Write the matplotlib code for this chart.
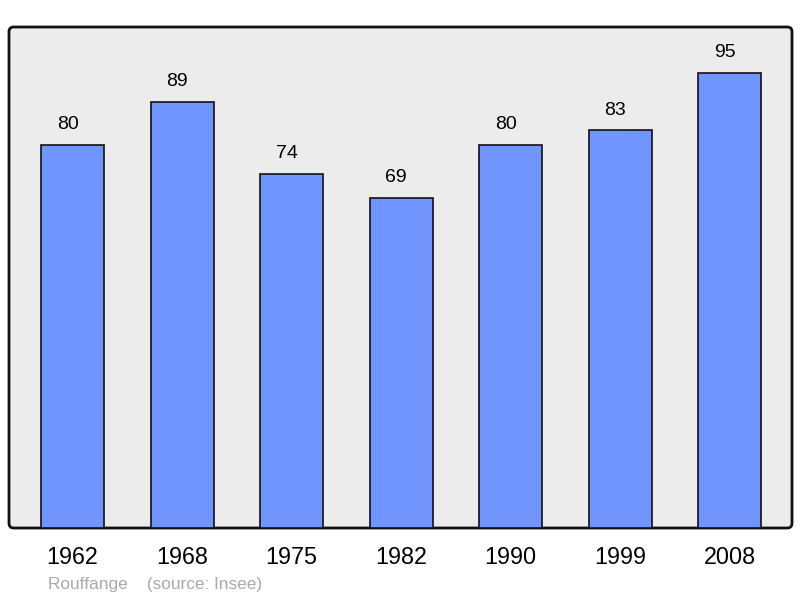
import matplotlib.pyplot as plt
from matplotlib.patches import FancyBboxPatch

years = ['1962', '1968', '1975', '1982', '1990', '1999', '2008']
population = [80, 89, 74, 69, 80, 83, 95]

plt.rcParams['font.family'] = ['Liberation Sans', 'DejaVu Sans']

fig = plt.figure(figsize=(8, 5.98), dpi=100)
ax = fig.add_axes([9 / 800, 70 / 598, 783 / 800, 501 / 598])
ax.set_facecolor('none')
ax.set_zorder(1)

# rounded frame behind the axes
frame = FancyBboxPatch((9 / 800, 70 / 598), 783 / 800, 501 / 598,
                       boxstyle='round,pad=0,rounding_size=0.006',
                       mutation_aspect=800 / 598,
                       transform=fig.transFigure, facecolor='#ececec',
                       edgecolor='#111111', linewidth=2, zorder=-1)
fig.patches.append(frame)

x = range(len(years))
ax.bar(x, population, width=0.575, color='#7095ff', edgecolor='#111111',
       linewidth=1.2, zorder=2)
for i, v in zip(x, population):
    ax.annotate(str(v), (i, v), xytext=(-3.6, 14.5), textcoords='offset points',
                ha='center', va='center', fontsize=14)

ax.set_xlim(-0.58, 6.57)
ax.set_ylim(0, 104.6)
ax.set_yticks([])
ax.set_xticks(list(x))
ax.set_xticklabels(years, fontsize=16.8)
ax.tick_params(axis='x', length=0, pad=13)
for s in ax.spines.values():
    s.set_visible(False)

fig.text(48 / 800, 1 - 584 / 598, 'Rouffange    (source: Insee)',
         fontsize=12.4, color='#aaaaaa', va='center')

fig.savefig('out.png', dpi=100)
